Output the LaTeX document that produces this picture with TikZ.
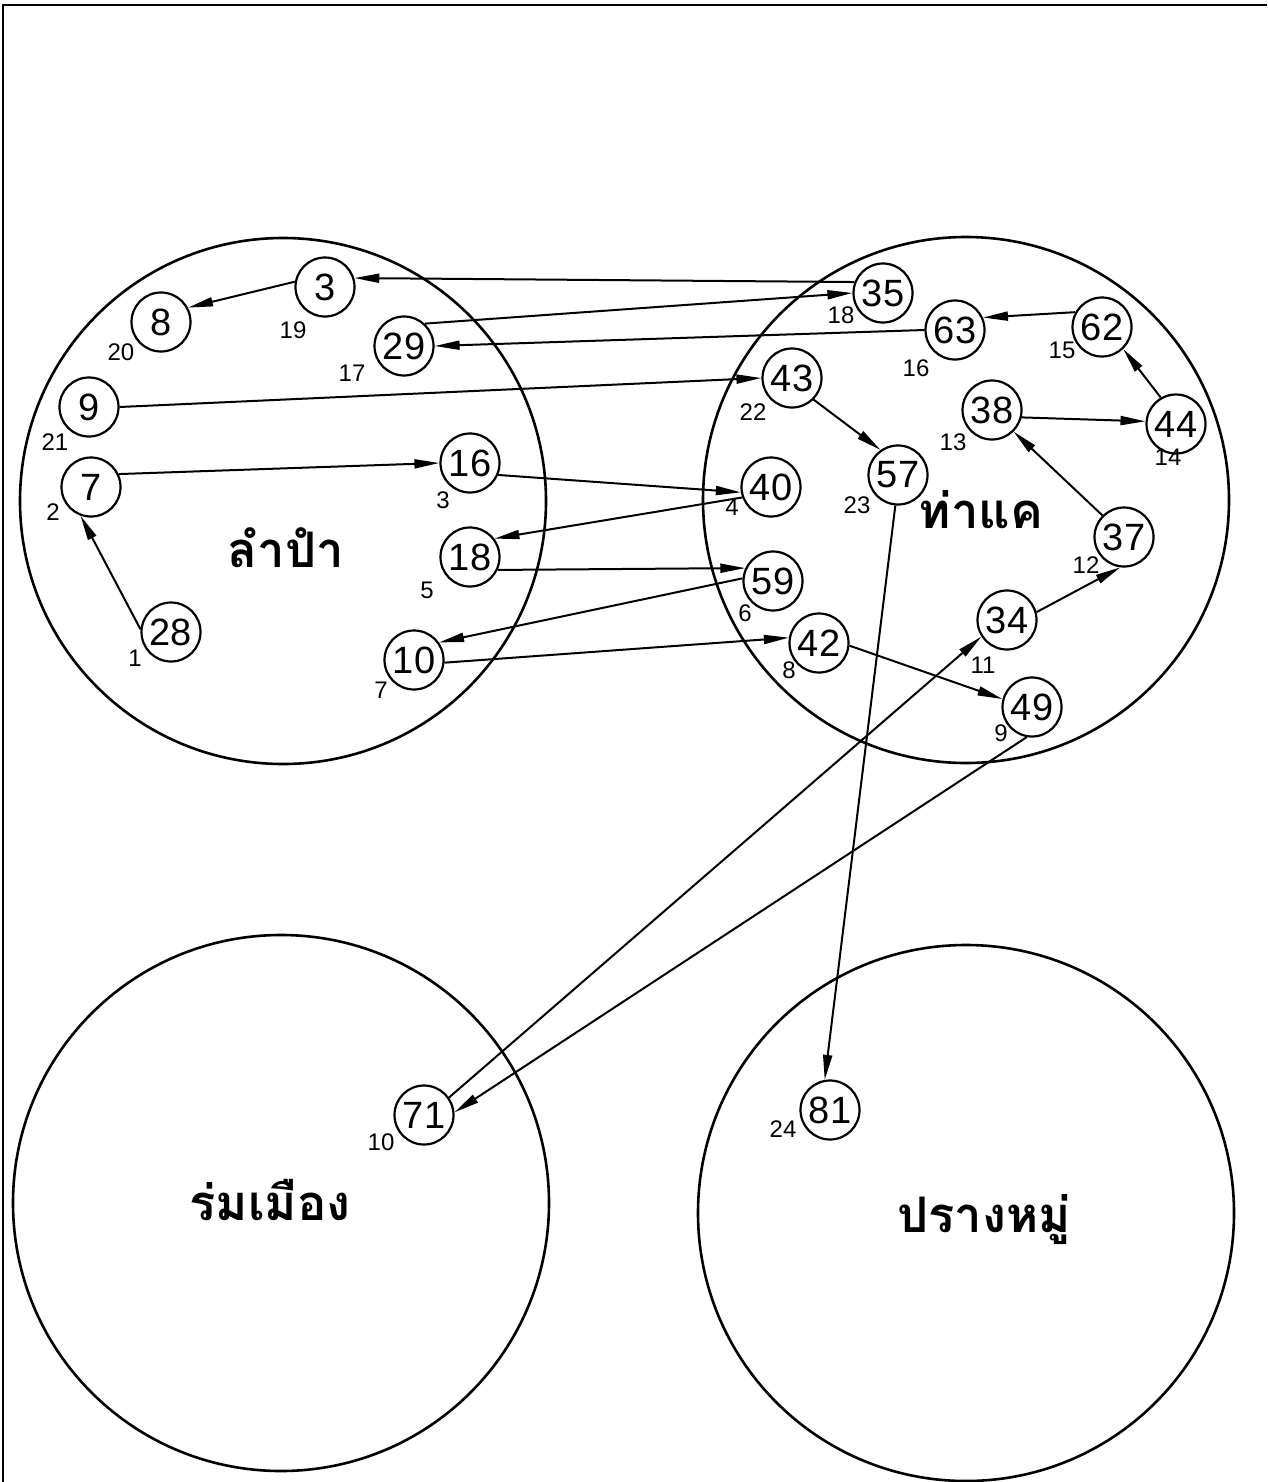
\documentclass[tikz,border=0pt]{standalone}
\usepackage{fontspec}
\setmainfont{Liberation Sans}
\newfontfamily\thaifont[Script=Thai]{Loma}
\usetikzlibrary{arrows.meta}
\tikzset{
  x=1pt,y=-1pt,
  nd/.style={circle,draw,line width=2.2pt,minimum size=59pt,inner sep=0pt,font=\fontsize{38}{38}\selectfont},
  lb/.style={inner sep=0pt,font=\fontsize{24}{24}\selectfont},
  zone/.style={draw,line width=2.6pt},
  zn/.style={inner sep=0pt,font=\thaifont\bfseries\fontsize{49}{49}\selectfont},
  arr/.style={line width=2pt,-{Triangle[length=25pt,width=9pt]}},
}
\begin{document}
\begin{tikzpicture}
\useasboundingbox (0,0) rectangle (1267,1482);
\draw[line width=2pt] (3,1482) -- (3,5) -- (1267,5);
% zones
\draw[zone] (283,501) circle[radius=263];
\draw[zone] (966,500) circle[radius=263];
\draw[zone] (281,1203) circle[radius=268];
\draw[zone] (966,1213) circle[radius=268];
\node[zn] (zA) at (286,548) {ลำปำ};
\node[zn] (zB) at (981,510) {ท่าแค};
\node[zn] (zC) at (270,1200) {ร่มเมือง};
\node[zn] (zD) at (984,1220) {ปรางหมู่};
% left cluster
\node[nd] (n3) at (325,287) {3};
\node[nd] (n8) at (161,322) {8};
\node[nd] (n29) at (404,346) {29};
\node[nd] (n9) at (89,407) {9};
\node[nd] (n7) at (91,487) {7};
\node[nd] (n16) at (470,463) {16};
\node[nd] (n18) at (470,557) {18};
\node[nd] (n28) at (171,632) {28};
\node[nd] (n10) at (414,660) {10};
% right cluster
\node[nd] (n35) at (883,293) {35};
\node[nd] (n63) at (955,330) {63};
\node[nd] (n62) at (1102,327) {62};
\node[nd] (n43) at (792,378) {43};
\node[nd] (n38) at (992,410) {38};
\node[nd] (n44) at (1176,424) {44};
\node[nd] (n40) at (771,487) {40};
\node[nd] (n57) at (898,475) {57};
\node[nd] (n37) at (1124,537) {37};
\node[nd] (n59) at (773,581) {59};
\node[nd] (n34) at (1007,620) {34};
\node[nd] (n42) at (819,643) {42};
\node[nd] (n49) at (1032,707) {49};
% bottom
\node[nd] (n71) at (424,1115) {71};
\node[nd] (n81) at (830,1110) {81};
% sequence labels
\node[lb] (s1) at (135,658) {1};
\node[lb] (s2) at (53,512) {2};
\node[lb] (s3) at (443,500) {3};
\node[lb] (s4) at (732,507) {4};
\node[lb] (s5) at (427,590) {5};
\node[lb] (s6) at (745,613) {6};
\node[lb] (s7) at (381,690) {7};
\node[lb] (s8) at (789,670) {8};
\node[lb] (s9) at (1001,733) {9};
\node[lb] (s10) at (381,1142) {10};
\node[lb] (s11) at (983,665) {11};
\node[lb] (s12) at (1086,565) {12};
\node[lb] (s13) at (953,442) {13};
\node[lb] (s14) at (1168,457) {14};
\node[lb] (s15) at (1062,350) {15};
\node[lb] (s16) at (916,368) {16};
\node[lb] (s17) at (352,373) {17};
\node[lb] (s18) at (841,315) {18};
\node[lb] (s19) at (293,330) {19};
\node[lb] (s20) at (121,352) {20};
\node[lb] (s21) at (55,442) {21};
\node[lb] (s22) at (753,412) {22};
\node[lb] (s23) at (857,505) {23};
\node[lb] (s24) at (783,1129) {24};
% connectors
\draw[arr] (n28.175) -- (n7.-110);
\draw[arr] (n7.25) -- (n16.180);
\draw[arr] (n16.-23) -- (n40.190);
\draw[arr] (n40.200) -- (n18.37);
\draw[arr] (n18.-25) -- (n59.155);
\draw[arr] (n59.175) -- (n10.35);
\draw[arr] (n10.-5) -- (n42.170);
\draw[arr] (n42.-5) -- (n49.165);
\draw[arr] (n49.-100) -- (n71.5);
\draw[arr] (n71.35) -- (n34.213);
\draw[arr] (n34.15) -- (n37.-97);
\draw[arr] (n37.135) -- (n38.-45);
\draw[arr] (n38.-14) -- (n44.175);
\draw[arr] (n44.120) -- (n62.-46);
\draw[arr] (n62.151) -- (n63.24);
\draw[arr] (n63.180) -- (n29.0);
\draw[arr] (n29.47) -- (n35.180);
\draw[arr] (n35.159) -- (n3.17);
\draw[arr] (n3.170) -- (n8.28);
\draw[arr] (n9.0) -- (n43.180);
\draw[arr] (n43.-45) -- (n57.125);
\draw[arr] (n57.-95) -- (n81.100);
\end{tikzpicture}
\end{document}
